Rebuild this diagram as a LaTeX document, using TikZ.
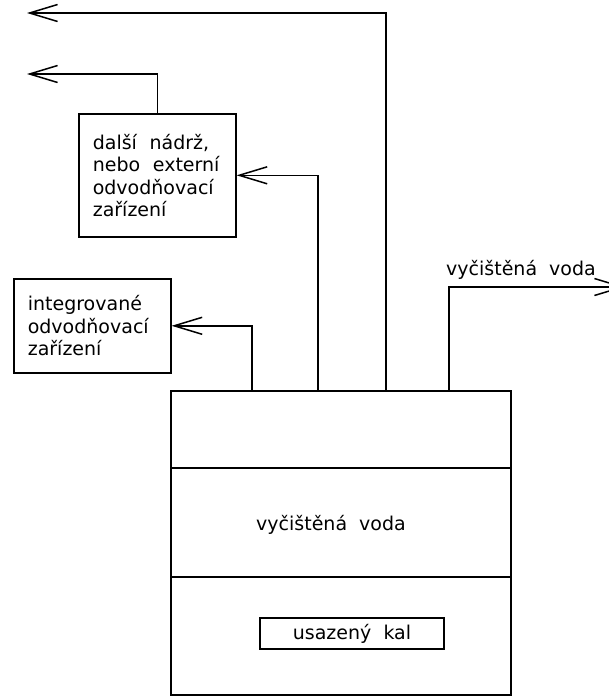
\documentclass[tikz,border=0pt]{standalone}
\usepackage{fontspec}
\setmainfont{DejaVu Sans}
\usetikzlibrary{positioning,arrows.meta}

\begin{document}
\begin{tikzpicture}[x=1pt, y=-1pt, font=\fontsize{19}{22.5}\selectfont]
    % Define styles
    \tikzstyle{box}=[rectangle, draw=black, line width=1.6pt, align=left, text width=129pt, inner xsep=14pt, inner ysep=0pt, anchor=north west]
    \tikzstyle{pipe}=[line width=1.6pt]
    \tikzstyle{arrow}=[pipe, -{Straight Barb[length=28pt, width=17pt, line width=1.5pt]}]

    \useasboundingbox (0,0) rectangle (609,697);

    % Tank
    \node[rectangle, draw=black, line width=1.6pt, minimum width=340pt, minimum height=304pt, anchor=north west] (tank) at (170,390) {};
    \draw[pipe] ([yshift=-78pt]tank.north west) -- ([yshift=-78pt]tank.north east);
    \draw[pipe] ([yshift=-187pt]tank.north west) -- ([yshift=-187pt]tank.north east);
    \node (water) at (331,525) {vyčištěná~~voda};
    \node[rectangle, draw=black, line width=1.2pt, minimum width=184pt, minimum height=31pt, inner sep=0pt] (sludge) at (352,633.5) {usazený~~kal};

    % Drainage boxes
    \node[box, minimum height=94pt] (integ) at (13,278) {integrované\\odvodňovací\\zařízení};
    \node[box, minimum height=123pt] (dalsi) at (78,113) {další~~nádrž,\\nebo~~externí\\odvodňovací\\zařízení};

    % Outlets
    \coordinate (out1) at (27,13);
    \coordinate (out2) at (27,74);
    \coordinate (clean) at (625,287);
    \node (cleanlabel) at (521,270) {vyčištěná~~voda};

    % Connections
    \draw[arrow] ([xshift=82pt]tank.north west) |- (integ.east);
    \draw[arrow] ([xshift=148pt]tank.north west) |- (dalsi.east);
    \draw[arrow] ([xshift=216pt]tank.north west) |- (out1);
    \draw[arrow] (dalsi.north) |- (out2);
    \draw[arrow] ([xshift=279pt]tank.north west) |- (clean);
\end{tikzpicture}
\end{document}
